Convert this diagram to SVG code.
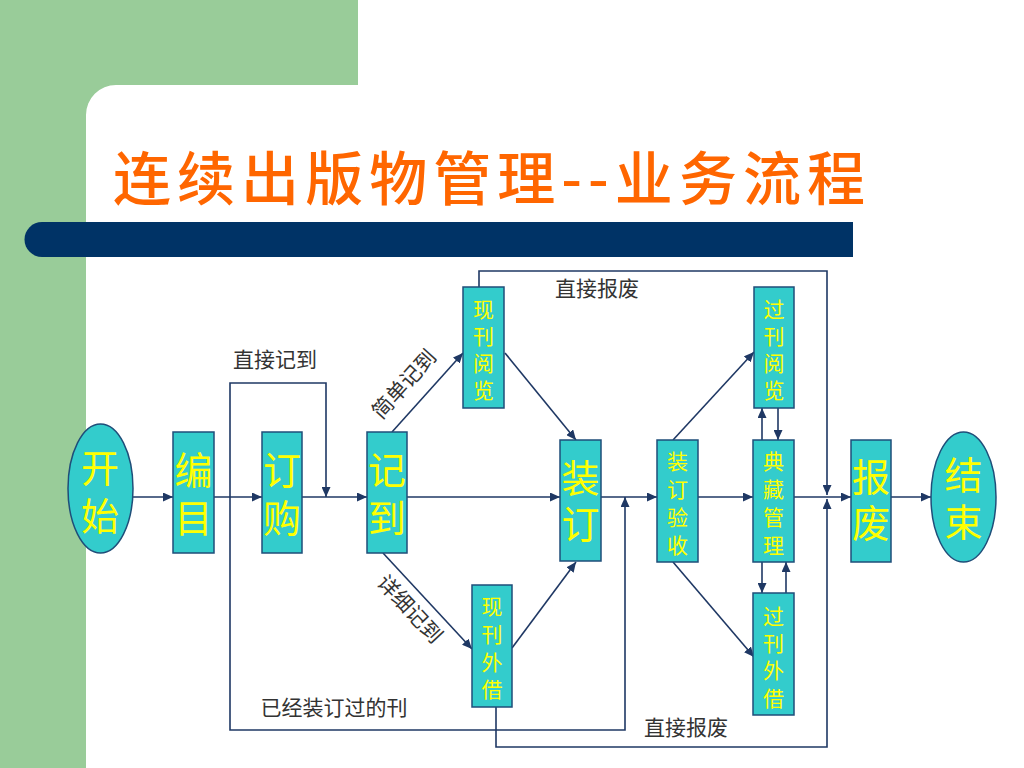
<svg xmlns="http://www.w3.org/2000/svg" width="1024" height="768" viewBox="0 0 1024 768">
<defs>
<style>
.node{fill:#33CCCC;stroke:#1F4E79;stroke-width:1.5}
.nt{font-family:"Liberation Sans","Noto Sans CJK SC",sans-serif;fill:#FFFF00;text-anchor:middle;dominant-baseline:central}
.big{font-size:38px}
.sm{font-size:21px}
.conn{fill:none;stroke:#1F3864;stroke-width:1.6}
.lbl{font-family:"Liberation Sans","Noto Sans CJK SC",sans-serif;font-size:21px;fill:#333333;text-anchor:middle;dominant-baseline:central}
</style>
<marker id="arr" markerUnits="userSpaceOnUse" markerWidth="11" markerHeight="9" refX="10" refY="4.5" orient="auto" viewBox="0 0 11 9">
<path d="M0,0 L10,4.5 L0,9 Z" fill="#1F3864"/>
</marker>
</defs>
<rect width="1024" height="768" fill="#FFFFFF"/>
<path d="M0,0 H358 V85 H116 A30,30 0 0 0 86,115 V768 H0 Z" fill="#99CC99"/>
<path d="M42,222 H853 V257 H42 A17.5,17.5 0 0 1 42,222 Z" fill="#003366"/>
<text x="113" y="175" font-family="'Noto Sans CJK SC',sans-serif" font-size="58" font-weight="500" fill="#FF6600" dominant-baseline="central" textLength="752" lengthAdjust="spacing">连续出版物管理--业务流程</text>

<g id="connectors">
<path class="conn" d="M133,497 H173" marker-end="url(#arr)"/>
<path class="conn" d="M214,497 H262" marker-end="url(#arr)"/>
<path class="conn" d="M302,497 H367" marker-end="url(#arr)"/>
<path class="conn" d="M230,497 V383 H326 V497" marker-end="url(#arr)"/>
<path class="conn" d="M230,497 V730 H625 V497" marker-end="url(#arr)"/>
<path class="conn" d="M407,497 H560" marker-end="url(#arr)"/>
<path class="conn" d="M392,432 L463,353" marker-end="url(#arr)"/>
<path class="conn" d="M383,553 L472,649" marker-end="url(#arr)"/>
<path class="conn" d="M505,353 L576,440" marker-end="url(#arr)"/>
<path class="conn" d="M512,648 L576,562" marker-end="url(#arr)"/>
<path class="conn" d="M601,497 H657" marker-end="url(#arr)"/>
<path class="conn" d="M673,440 L754,352" marker-end="url(#arr)"/>
<path class="conn" d="M673,562 L754,657" marker-end="url(#arr)"/>
<path class="conn" d="M698,497 H753" marker-end="url(#arr)"/>
<path class="conn" d="M762,440 V408" marker-end="url(#arr)"/>
<path class="conn" d="M778,408 V440" marker-end="url(#arr)"/>
<path class="conn" d="M762,562 V593" marker-end="url(#arr)"/>
<path class="conn" d="M786,593 V562" marker-end="url(#arr)"/>
<path class="conn" d="M794,497 H851" marker-end="url(#arr)"/>
<path class="conn" d="M479,287 V271 H827 V495" marker-end="url(#arr)"/>
<path class="conn" d="M496,707 V747 H827 V499" marker-end="url(#arr)"/>
<path class="conn" d="M891,497 H931" marker-end="url(#arr)"/>
<text class="lbl" x="275" y="359">直接记到</text>
<text class="lbl" x="597" y="288">直接报废</text>
<text class="lbl" x="686" y="727">直接报废</text>
<text class="lbl" x="334" y="707">已经装订过的刊</text>
<text class="lbl" transform="translate(404,384) rotate(-48)">简单记到</text>
<text class="lbl" transform="translate(410,609) rotate(47)">详细记到</text>
</g>

<g id="n-start">
<ellipse class="node" cx="100.5" cy="488.5" rx="32.5" ry="64.5"/>
<text class="nt big" x="100" y="469">开</text>
<text class="nt big" x="100" y="517">始</text>
</g>
<g id="n-catalog">
<rect class="node" x="173" y="432" width="41" height="121"/>
<text class="nt big" x="193.5" y="471">编</text>
<text class="nt big" x="193.5" y="519">目</text>
</g>
<g id="n-order">
<rect class="node" x="262" y="432" width="40" height="121"/>
<text class="nt big" x="282" y="471">订</text>
<text class="nt big" x="282" y="519">购</text>
</g>
<g id="n-register">
<rect class="node" x="367" y="432" width="40" height="121"/>
<text class="nt big" x="387" y="471">记</text>
<text class="nt big" x="387" y="519">到</text>
</g>
<g id="n-current-read">
<rect class="node" x="463" y="287" width="41" height="121"/>
<text class="nt sm" x="483.5" y="309">现</text>
<text class="nt sm" x="483.5" y="336">刊</text>
<text class="nt sm" x="483.5" y="363">阅</text>
<text class="nt sm" x="483.5" y="390">览</text>
</g>
<g id="n-current-lend">
<rect class="node" x="472" y="585" width="40" height="122"/>
<text class="nt sm" x="492" y="606">现</text>
<text class="nt sm" x="492" y="634">刊</text>
<text class="nt sm" x="492" y="662">外</text>
<text class="nt sm" x="492" y="689">借</text>
</g>
<g id="n-bind">
<rect class="node" x="560" y="440" width="41" height="121"/>
<text class="nt big" x="580.5" y="479">装</text>
<text class="nt big" x="580.5" y="525">订</text>
</g>
<g id="n-bind-check">
<rect class="node" x="657" y="440" width="41" height="122"/>
<text class="nt sm" x="677.5" y="461">装</text>
<text class="nt sm" x="677.5" y="489">订</text>
<text class="nt sm" x="677.5" y="517">验</text>
<text class="nt sm" x="677.5" y="545">收</text>
</g>
<g id="n-archive">
<rect class="node" x="753" y="440" width="41" height="122"/>
<text class="nt sm" x="773.5" y="461">典</text>
<text class="nt sm" x="773.5" y="489">藏</text>
<text class="nt sm" x="773.5" y="517">管</text>
<text class="nt sm" x="773.5" y="545">理</text>
</g>
<g id="n-back-read">
<rect class="node" x="754" y="287" width="40" height="121"/>
<text class="nt sm" x="774" y="309">过</text>
<text class="nt sm" x="774" y="336">刊</text>
<text class="nt sm" x="774" y="363">阅</text>
<text class="nt sm" x="774" y="390">览</text>
</g>
<g id="n-back-lend">
<rect class="node" x="753" y="593" width="41" height="122"/>
<text class="nt sm" x="773.5" y="616">过</text>
<text class="nt sm" x="773.5" y="643">刊</text>
<text class="nt sm" x="773.5" y="670">外</text>
<text class="nt sm" x="773.5" y="698">借</text>
</g>
<g id="n-discard">
<rect class="node" x="851" y="440" width="40" height="122"/>
<text class="nt big" x="871" y="478">报</text>
<text class="nt big" x="871" y="524">废</text>
</g>
<g id="n-end">
<ellipse class="node" cx="963.5" cy="497" rx="32.5" ry="65"/>
<text class="nt big" x="963.5" y="476">结</text>
<text class="nt big" x="963.5" y="523">束</text>
</g>
</svg>
